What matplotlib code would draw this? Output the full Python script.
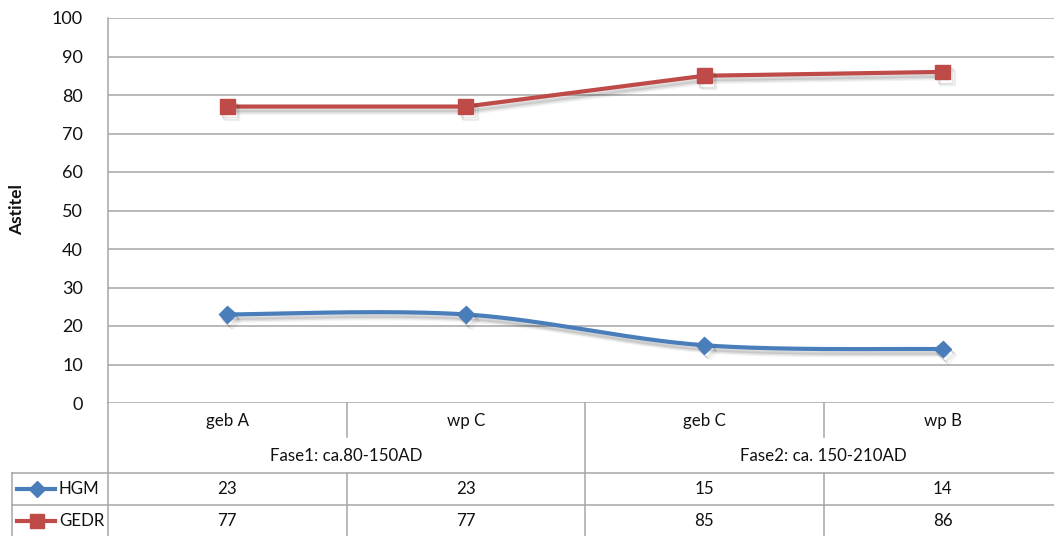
import numpy as np
import matplotlib.pyplot as plt
import matplotlib.patheffects as pe
import matplotlib.transforms as mtransforms
from matplotlib.lines import Line2D

categories = ["geb A", "wp C", "geb C", "wp B"]
phases = ["Fase1: ca.80-150AD", "Fase2: ca. 150-210AD"]
phase_members = [(0, 1), (2, 3)]
hgm = [23, 23, 15, 14]
gedr = [77, 77, 85, 86]
y_ticks = [0, 10, 20, 30, 40, 50, 60, 70, 80, 90, 100]
y_title = "Astitel"

# name, values, colour, marker, marker size, smoothed line
series = [
    ("HGM", hgm, "#4a7ebb", "D", 8.5, True),
    ("GEDR", gedr, "#be4b48", "s", 10.5, False),
]

W, H = 1054, 536
GRID = "#a6a6a6"
FS = 12.2
plt.rcParams["font.family"] = ["Lato", "DejaVu Sans"]
plt.rcParams["text.color"] = "#111111"


def fx(px):
    return px / W


def fy(py):
    return 1 - py / H


def smooth(vals, n=50):
    # cubic Bezier through the points, Catmull-Rom style control points
    pts = np.column_stack([np.arange(len(vals), dtype=float), np.asarray(vals, float)])
    padded = np.vstack([pts[0], pts, pts[-1]])
    t = np.linspace(0, 1, n)[:, None]
    parts = []
    for i in range(len(pts) - 1):
        p0, p1, p2, p3 = padded[i:i + 4]
        c1 = p1 + (p2 - p0) / 6
        c2 = p2 - (p3 - p1) / 6
        seg = (1 - t) ** 3 * p1 + 3 * (1 - t) ** 2 * t * c1 + 3 * (1 - t) * t ** 2 * c2 + t ** 3 * p2
        parts.append(seg if i == 0 else seg[1:])
    seg = np.vstack(parts)
    return seg[:, 0], seg[:, 1]


shadow = [
    pe.SimpleLineShadow(offset=(1.5, -2.5), shadow_color="k", alpha=0.10),
    pe.SimpleLineShadow(offset=(2.5, -3.5), shadow_color="k", alpha=0.08),
    pe.SimpleLineShadow(offset=(3.5, -4.5), shadow_color="k", alpha=0.05),
    pe.Normal(),
]

fig = plt.figure(figsize=(W / 100, H / 100), dpi=100)
ax = fig.add_axes([fx(108), fy(403), fx(1062) - fx(108), fy(18) - fy(403)])

x = np.arange(len(categories))
for name, vals, color, marker, ms, smoothed in series:
    sx, sy = smooth(vals) if smoothed else (x, vals)
    ax.plot(sx, sy, color=color, lw=3.0, solid_capstyle="round", solid_joinstyle="round",
            path_effects=shadow, zorder=3)
    ax.plot(x, vals, ls="none", marker=marker, ms=ms, color=color, mec=color,
            path_effects=shadow, zorder=4)

ax.set_xlim(-0.5, len(categories) - 0.5)
ax.set_ylim(0, 100)
ax.set_yticks(y_ticks)
ax.set_xticks([])
ax.yaxis.grid(True, color=GRID, lw=1.1)
ax.set_axisbelow(True)
ax.tick_params(axis="y", length=0, pad=18, labelsize=13, labelcolor="#111111")
for side in ["top", "right", "bottom"]:
    ax.spines[side].set_visible(False)
ax.spines["left"].set_color(GRID)
ax.spines["left"].set_linewidth(1.1)

fig.text(fx(17), fy(210), y_title, rotation=90, ha="center", va="center",
         fontsize=12.5, fontweight="bold")

# category axis and data table below the plot
bt = mtransforms.blended_transform_factory(ax.transData, fig.transFigure)


def vline(xd, py0, py1):
    fig.add_artist(Line2D([xd, xd], [fy(py0), fy(py1)], transform=bt, color=GRID, lw=1.1))


def hline(px0, px1, py):
    fig.add_artist(Line2D([fx(px0), fx(px1)], [fy(py), fy(py)], transform=fig.transFigure,
                          color=GRID, lw=1.1))


row_tops = [473, 505]
row_mid = [489, 521]
for py in row_tops:
    hline(12, W, py)
fig.add_artist(Line2D([fx(12), fx(12)], [fy(473), fy(536)], transform=fig.transFigure,
                      color=GRID, lw=1.1))
vline(-0.5, 403, 536)
for b in np.arange(0.5, len(categories) - 1):
    if int(b - 0.5) in [m[1] for m in phase_members]:
        vline(b, 403, 536)
    else:
        vline(b, 403, 437)
        vline(b, 473, 536)

for i, cat in enumerate(categories):
    ax.text(i, fy(421), cat, transform=bt, ha="center", va="center", fontsize=FS)
for label, (a, b) in zip(phases, phase_members):
    ax.text((a + b) / 2, fy(456), label, transform=bt, ha="center", va="center", fontsize=FS)

for (name, vals, color, marker, ms, _), py in zip(series, row_mid):
    fig.add_artist(Line2D([fx(17), fx(55)], [fy(py), fy(py)], transform=fig.transFigure,
                          color=color, lw=3.0))
    fig.add_artist(Line2D([fx(37)], [fy(py)], transform=fig.transFigure, ls="none",
                          marker=marker, ms=ms, color=color))
    fig.text(fx(59), fy(py), name, ha="left", va="center", fontsize=FS)
    for i, v in enumerate(vals):
        ax.text(i, fy(py), str(v), transform=bt, ha="center", va="center", fontsize=FS)

fig.savefig("out.png", dpi=100)
